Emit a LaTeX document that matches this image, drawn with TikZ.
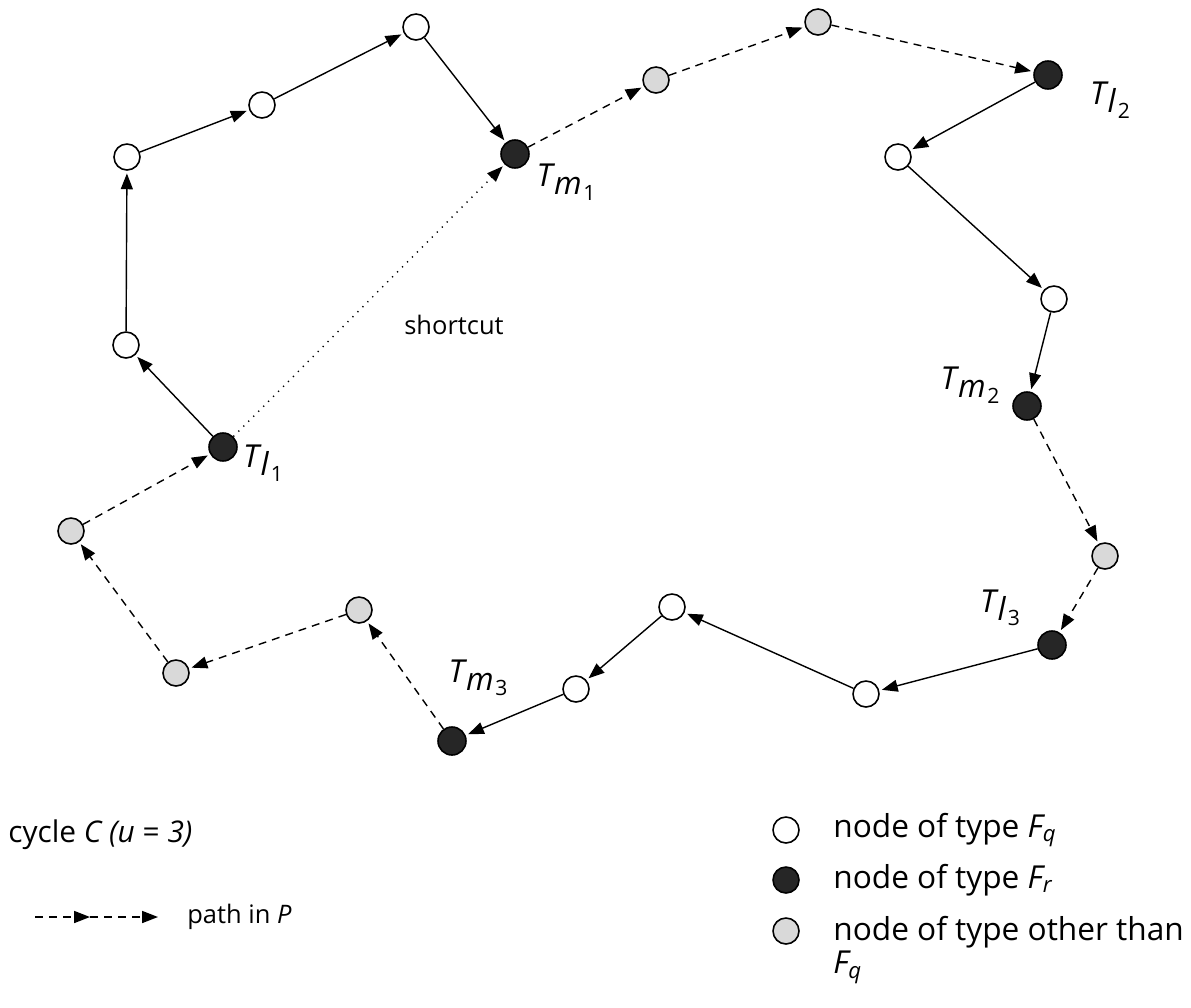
\documentclass[tikz,border=0pt]{standalone}
\usepackage{fontspec}
\setmainfont{Open Sans}
\usetikzlibrary{arrows.meta}
\newcommand{\Tlab}[2]{\textit{T}\kern-0.03em\raisebox{-0.45ex}{\textit{#1}\kern0.05em\raisebox{-0.35ex}{\fontsize{12}{12}\selectfont #2}}}
\begin{document}
\begin{tikzpicture}[x=0.02cm,y=-0.02cm,
  vtx/.style={circle,draw,line width=0.9pt,minimum size=0.52cm,inner sep=0pt},
  wn/.style={vtx,fill=white},
  bn/.style={vtx,fill=black!85,minimum size=0.56cm},
  gn/.style={vtx,fill=black!15},
  arc/.style={line width=0.8pt,-{Triangle[length=9pt,width=6.8pt]},shorten >=1.5pt},
  pe/.style={arc,dash pattern=on 4.5pt off 3.5pt},
  sc/.style={arc,dash pattern=on 0.7pt off 3.3pt},
  lab/.style={font=\fontsize{18}{21}\selectfont,inner sep=0pt},
  txt/.style={font=\fontsize{14.5}{17}\selectfont,inner sep=0pt,anchor=west},
  ktxt/.style={font=\fontsize{18}{21}\selectfont,inner sep=0pt,anchor=west}]
\useasboundingbox (0,0) rectangle (1191,1008);
% nodes
\node[wn] (A) at (127,157) {};
\node[wn] (B) at (262,105) {};
\node[wn] (C) at (416,27) {};
\node[bn] (D) at (515,154) {};
\node[gn] (E) at (656,80) {};
\node[gn] (F) at (818,22) {};
\node[bn] (G) at (1048,75) {};
\node[wn] (H) at (898,157) {};
\node[wn] (I) at (1054,299) {};
\node[bn] (J) at (1027,406) {};
\node[gn] (K) at (1105,556) {};
\node[bn] (L) at (1052,645) {};
\node[wn] (M) at (866,694) {};
\node[wn] (N) at (672,607) {};
\node[wn] (O) at (576,689) {};
\node[bn] (P) at (452,741) {};
\node[gn] (Q) at (359,610) {};
\node[gn] (R) at (176,673) {};
\node[gn] (S) at (71,531) {};
\node[bn] (T) at (223,447) {};
\node[wn] (U) at (126,345) {};
% edges
\draw[arc] (A) -- (B);
\draw[arc] (B) -- (C);
\draw[arc] (C) -- (D);
\draw[pe] (D) -- (E);
\draw[pe] (E) -- (F);
\draw[pe] (F) -- (G);
\draw[arc] (G) -- (H);
\draw[arc] (H) -- (I);
\draw[arc] (I) -- (J);
\draw[pe] (J) -- (K);
\draw[pe] (K) -- (L);
\draw[arc] (L) -- (M);
\draw[arc] (M) -- (N);
\draw[arc] (N) -- (O);
\draw[arc] (O) -- (P);
\draw[pe] (P) -- (Q);
\draw[pe] (Q) -- (R);
\draw[pe] (R) -- (S);
\draw[pe] (S) -- (T);
\draw[arc] (T) -- (U);
\draw[arc] (U) -- (A);
\draw[sc] (T) -- (D);
% labels
\node[lab] (lm1) at (566,182) {\Tlab{m}{1}};
\node[lab] (ll2) at (1110,100) {\Tlab{l}{2}};
\node[lab] (lm2) at (970,385) {\Tlab{m}{2}};
\node[lab] (ll3) at (1000,608) {\Tlab{l}{3}};
\node[lab] (lm3) at (478,678) {\Tlab{m}{3}};
\node[lab] (ll1) at (263,463) {\Tlab{l}{1}};
\node[font=\fontsize{14.5}{17}\selectfont,inner sep=0pt] (sct) at (454,325) {shortcut};
% legend
\node[txt,font=\fontsize{17}{20}\selectfont] (cyc) at (8,835) {cycle \textit{C (u} = \textit{3)}};
\coordinate (p1) at (35,917);
\coordinate (p2) at (90,917);
\coordinate (p3) at (158,917);
\draw[pe,shorten >=0pt] (p1) -- (p2);
\draw[pe,shorten >=0pt] (p2) -- (p3);
\node[txt] (pth) at (187,917) {path in \textit{P}};
\node[wn] (kw) at (786,830) {};
\node[bn,minimum size=0.52cm] (kb) at (786,880) {};
\node[gn] (kg) at (786,931) {};
\node[ktxt] (tw) at (833,830) {node of type \textit{F\textsubscript{q}}};
\node[ktxt] (tb) at (833,880) {node of type \textit{F\textsubscript{r}}};
\node[ktxt,align=left,anchor=north west] (tg) at (833,916) {node of type other than\\[-2pt]\textit{F\textsubscript{q}}};
\end{tikzpicture}
\end{document}
